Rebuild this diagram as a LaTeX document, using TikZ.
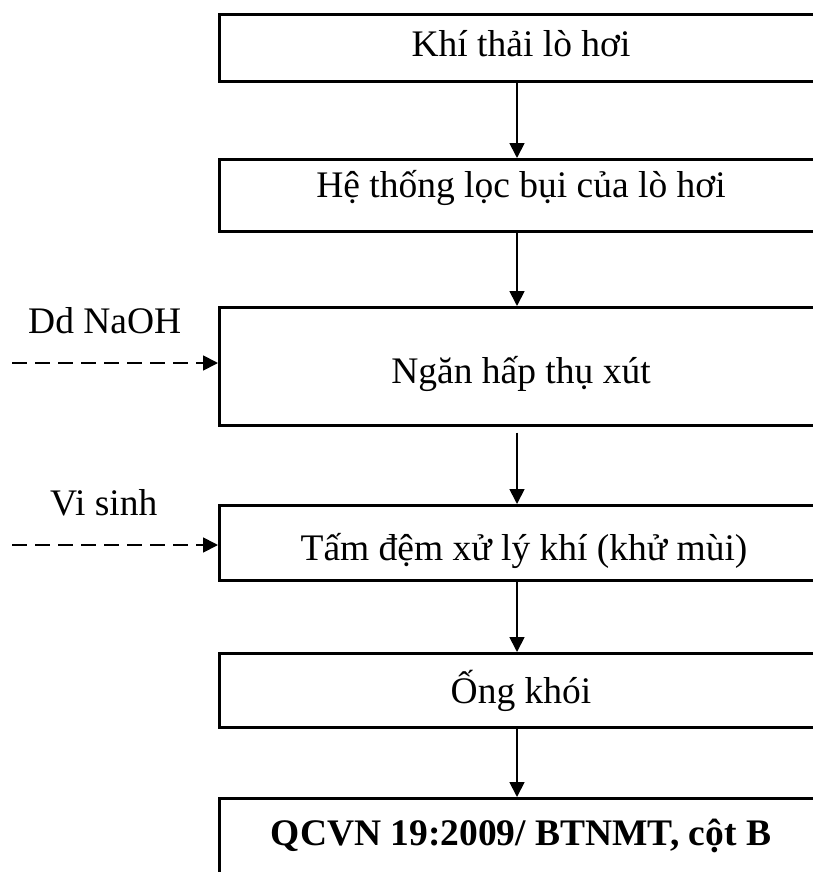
\documentclass[tikz,border=0pt]{standalone}
\usepackage{fontspec}
\setmainfont{Liberation Serif}
\usetikzlibrary{arrows.meta}
\begin{document}
\begin{tikzpicture}[x=1pt,y=-1pt,
  box/.style={draw,line width=2.6pt,rectangle,inner sep=0pt,anchor=north west},
  txt/.style={font=\fontsize{37.5}{40}\selectfont,anchor=base,inner sep=0pt},
  flow/.style={line width=1.8pt,-{Triangle[length=15pt,width=15pt]}},
  feed/.style={line width=1.8pt,dash pattern=on 15pt off 8pt,-{Triangle[length=15pt,width=15pt]}}]
\useasboundingbox (0,0) rectangle (813,872);
\clip (0,0) rectangle (813,872);
% boxes
\node[box,minimum width=606pt,minimum height=67pt] (b1) at (218,13) {};
\node[box,minimum width=606pt,minimum height=72pt] (b2) at (218,158) {};
\node[box,minimum width=606pt,minimum height=118pt] (b3) at (218,306) {};
\node[box,minimum width=606pt,minimum height=75pt] (b4) at (218,504) {};
\node[box,minimum width=606pt,minimum height=74pt] (b5) at (218,652) {};
\node[box,minimum width=606pt,minimum height=110pt] (b6) at (218,797) {};
% texts
\node[txt] (t1) at (521,57) {Khí thải lò hơi};
\node[txt] (t2) at (521,197) {Hệ thống lọc bụi của lò hơi};
\node[txt] (t3) at (521,383) {Ngăn hấp thụ xút};
\node[txt] (t4) at (524,560) {Tấm đệm xử lý khí (khử mùi)};
\node[txt] (t5) at (521,703) {Ống khói};
\node[txt,font=\fontsize{37.5}{40}\selectfont\bfseries] (t6) at (521,845) {QCVN 19:2009/ BTNMT, cột B};
\node[txt,anchor=base west] (l1) at (28,333) {Dd NaOH};
\node[txt,anchor=base west] (l2) at (50,515) {Vi sinh};
% connectors
\coordinate (s1) at (12,363);
\coordinate (s2) at (12,545);
\draw[flow] (b1.south -| 517,0) -- (b2.north -| 517,0);
\draw[flow] (b2.south -| 517,0) -- (b3.north -| 517,0);
\draw[flow] ([yshift=-6pt]b3.south -| 517,0) -- (b4.north -| 517,0);
\draw[flow] (b4.south -| 517,0) -- (b5.north -| 517,0);
\draw[flow] (b5.south -| 517,0) -- (b6.north -| 517,0);
\draw[feed] (s1) -- (s1 -| b3.west);
\draw[feed] (s2) -- (s2 -| b4.west);
\end{tikzpicture}
\end{document}
